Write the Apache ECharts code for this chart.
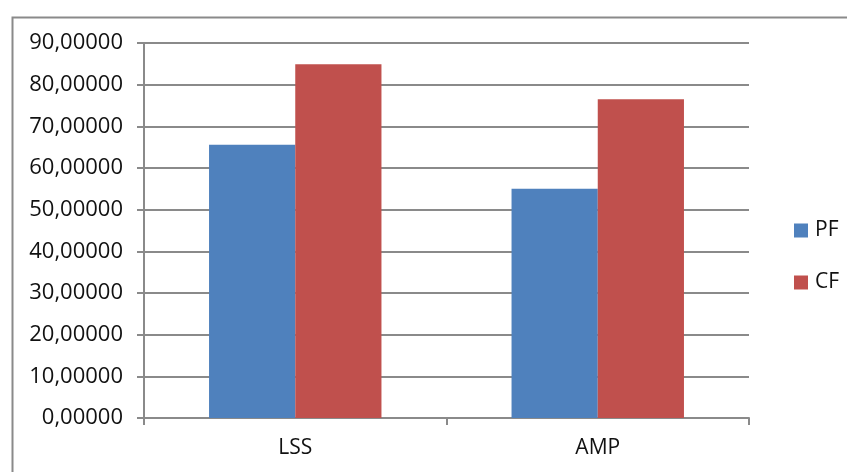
<!DOCTYPE html>
<html>
<head>
<meta charset="utf-8">
<script src="https://cdn.jsdelivr.net/npm/echarts@6/dist/echarts.min.js"></script>
<style>
  html, body { margin: 0; padding: 0; background: #fff; }
  #chart { width: 847px; height: 472px; }
</style>
</head>
<body>
<div id="chart"></div>
<script>
// Categories and series values
const categories = ['LSS', 'AMP'];
const pfValues = [65.6, 55.0];
const cfValues = [84.9, 76.5];
const yTicks = { min: 0, max: 90, interval: 10 };

const axisGrey = '#8a8a8a';
const textColor = '#111111';
const fontFamily = '"Open Sans", "Liberation Sans", sans-serif';

const chart = echarts.init(document.getElementById('chart'), null, { renderer: 'canvas' });

chart.setOption({
  animation: false,
  backgroundColor: '#ffffff',
  graphic: [{
    type: 'rect',
    left: 10, top: 15,
    shape: { x: 0, y: 0, width: 900, height: 500 },
    style: { fill: 'none', stroke: axisGrey, lineWidth: 2 },
    silent: true
  }],
  grid: { left: 144, top: 43, right: 98, bottom: 54, containLabel: false },
  legend: {
    orient: 'vertical',
    left: 789, top: 215,
    itemWidth: 14, itemHeight: 14,
    itemGap: 31,
    icon: 'rect',
    textStyle: { fontFamily, fontSize: 21, color: textColor, padding: [0, 0, 0, 2] },
    data: ['PF', 'CF']
  },
  xAxis: {
    type: 'category',
    data: categories,
    axisLine: { lineStyle: { color: axisGrey, width: 2 } },
    axisTick: { show: true, length: 7, lineStyle: { color: axisGrey, width: 2 } },
    axisLabel: { fontFamily, fontSize: 21, color: textColor, margin: 20 }
  },
  yAxis: {
    type: 'value',
    min: yTicks.min, max: yTicks.max, interval: yTicks.interval,
    axisLine: { show: true, lineStyle: { color: axisGrey, width: 2 } },
    axisTick: { show: true, length: 7, lineStyle: { color: axisGrey, width: 2 } },
    splitLine: { lineStyle: { color: axisGrey, width: 2 } },
    axisLabel: {
      fontFamily, fontSize: 22, color: textColor, margin: 21,
      formatter: v => v.toFixed(5).replace('.', ',')
    }
  },
  series: [
    {
      name: 'PF', type: 'bar', data: pfValues,
      barGap: '0%', barCategoryGap: '43%',
      itemStyle: { color: '#4f81bd' }
    },
    {
      name: 'CF', type: 'bar', data: cfValues,
      barGap: '0%', barCategoryGap: '43%',
      itemStyle: { color: '#c0504d' }
    }
  ]
});
</script>
</body>
</html>
